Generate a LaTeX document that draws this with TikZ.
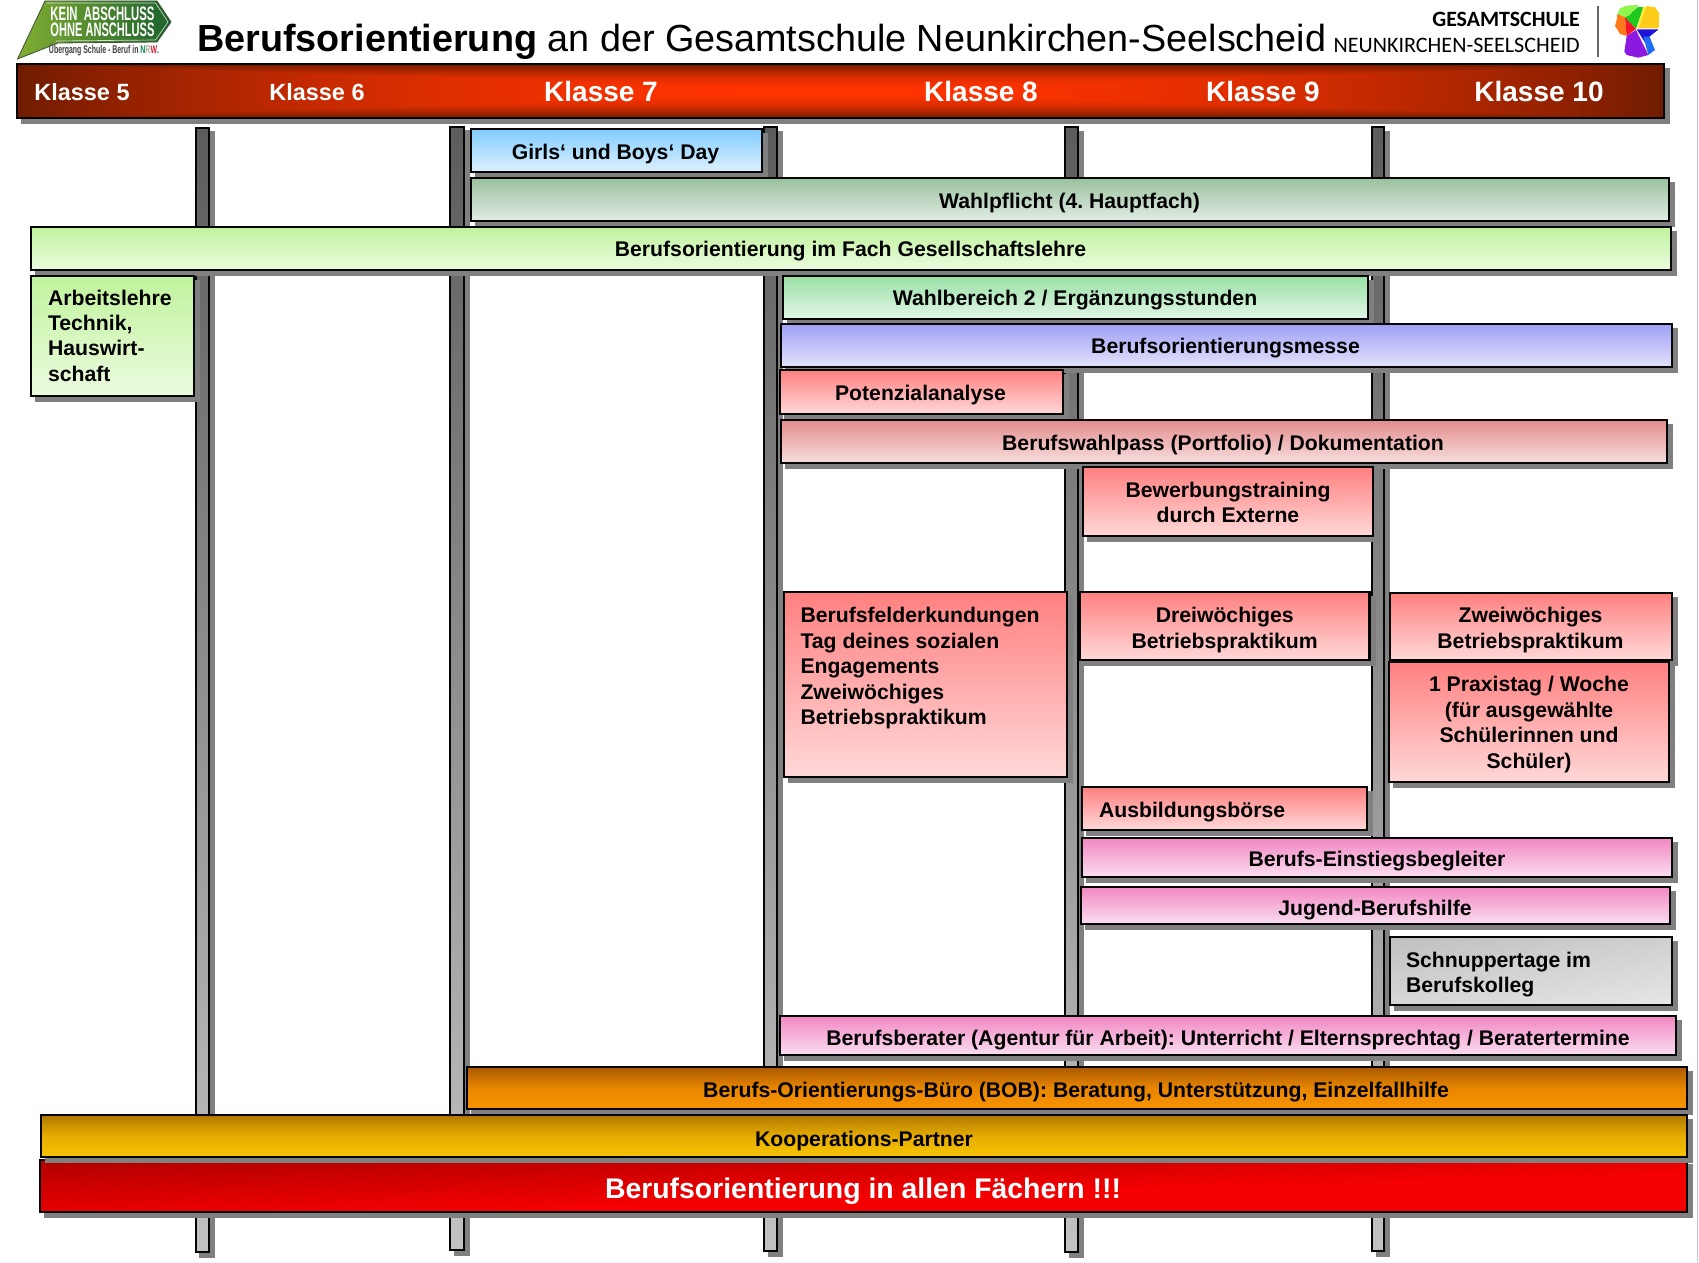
\documentclass[tikz,border=0pt]{standalone}
\usepackage{graphicx}
\usepackage{fontspec}
\setmainfont{Liberation Sans}
\newfontfamily\calibrilike{Carlito}
\definecolor{shadowfill}{RGB}{128,128,128}
\definecolor{edgeblack}{RGB}{5,5,5}
\definecolor{barT}{RGB}{92,92,92}\definecolor{barB}{RGB}{194,194,194}
\definecolor{girlsT}{RGB}{128,204,255}\definecolor{girlsB}{RGB}{222,241,255}
\definecolor{wpT}{RGB}{153,194,158}\definecolor{wpB}{RGB}{226,236,228}
\definecolor{glT}{RGB}{192,243,156}\definecolor{glB}{RGB}{236,251,224}
\definecolor{wbT}{RGB}{153,224,166}\definecolor{wbB}{RGB}{226,246,230}
\definecolor{msT}{RGB}{160,160,245}\definecolor{msB}{RGB}{226,226,252}
\definecolor{rdT}{RGB}{255,128,128}\definecolor{rdB}{RGB}{255,216,216}
\definecolor{pfT}{RGB}{228,140,140}\definecolor{pfB}{RGB}{246,222,222}
\definecolor{pkT}{RGB}{242,135,195}\definecolor{pkB}{RGB}{250,222,240}
\definecolor{boT}{RGB}{170,90,0}\definecolor{boM}{RGB}{232,134,0}\definecolor{boB}{RGB}{248,148,0}
\definecolor{kpT}{RGB}{176,120,0}\definecolor{kpM}{RGB}{230,172,0}\definecolor{kpB}{RGB}{248,196,0}
\definecolor{logoL}{RGB}{130,175,50}\definecolor{logoR}{RGB}{28,98,45}\definecolor{logoE}{RGB}{60,80,50}
\definecolor{nrwG}{RGB}{0,140,70}\definecolor{nrwW}{RGB}{170,170,170}\definecolor{nrwR}{RGB}{215,30,50}
\definecolor{hLime}{RGB}{145,245,80}\definecolor{hGreen}{RGB}{30,200,30}\definecolor{hYel}{RGB}{255,235,50}
\definecolor{hGold}{RGB}{255,205,25}\definecolor{hOrange}{RGB}{255,120,25}\definecolor{hRed}{RGB}{245,20,40}
\definecolor{hBlue}{RGB}{30,20,215}\definecolor{hSky}{RGB}{30,110,245}\definecolor{hPurple}{RGB}{140,25,225}
\pgfdeclarefunctionalshading{headerglow}{\pgfpointorigin}{\pgfpoint{100bp}{100bp}}{}{
 50 sub abs 25 div exch 50 sub abs 25 div 2 copy lt {exch} if pop dup mul
 dup -143 mul 255 add 255 div exch -23 mul 51 add 255 div 0 }
\pgfdeclarefunctionalshading{redslant}{\pgfpointorigin}{\pgfpoint{100bp}{100bp}}{}{
 25 sub 50 div 1 exch sub 56 mul exch 25 sub 50 div 54 mul add 176 add
 dup 245 gt {pop 245} if 255 div 0 0 }
\pgfdeclarefunctionalshading{grayslant}{\pgfpointorigin}{\pgfpoint{100bp}{100bp}}{}{
 25 sub 50 div 1 exch sub 23 mul exch 25 sub 50 div 15 mul add 192 add 255 div dup dup }
\tikzset{
 panelbase/.style={draw=edgeblack,line width=1.75pt,inner sep=0pt,outer sep=0pt,rectangle},
 barpanel/.style={top color=barT,bottom color=barB,line width=1.5pt},
 girlsfill/.style={top color=girlsT,bottom color=girlsB},
 wpfill/.style={top color=wpT,bottom color=wpB},
 glfill/.style={top color=glT,bottom color=glB},
 wbfill/.style={top color=wbT,bottom color=wbB},
 msfill/.style={top color=msT,bottom color=msB},
 rdfill/.style={top color=rdT,bottom color=rdB},
 pffill/.style={top color=pfT,bottom color=pfB},
 pkfill/.style={top color=pkT,bottom color=pkB},
 bofill/.style={top color=boT,bottom color=boB,middle color=boM},
 kpfill/.style={top color=kpT,bottom color=kpB,middle color=kpM},
 headfill/.style={shade,shading=headerglow},
 redfill/.style={shade,shading=redslant},
 grayfill/.style={shade,shading=grayslant},
 body/.style={font=\fontsize{15.9}{19.1}\selectfont\bfseries,text=black,inner sep=0pt,outer sep=0pt,anchor=base},
 leftbody/.style={body,anchor=base west},
 klein/.style={body,text=white,font=\fontsize{17.6}{22}\selectfont\bfseries},
 gross/.style={body,text=white,font=\fontsize{21}{24}\selectfont\bfseries},
}
\newcommand{\panel}[6]{%
 \fill[shadowfill] ({#2+3.8},{#3+3.8}) rectangle ({#4+6.2},{#5+6.2});
 \node[panelbase,#6,minimum width={(#4-#2)*0.75pt},minimum height={(#5-#3)*0.75pt}] (#1) at ({(#2+#4)/2},{(#3+#5)/2}) {};
}
\newcommand{\lines}[2]{\begin{tabular}[t]{@{}#1@{}}#2\end{tabular}}
\renewcommand{\arraystretch}{1}
\begin{document}
\frenchspacing
\begin{tikzpicture}[x=0.75pt,y=-0.75pt]
\useasboundingbox (0,0) rectangle (1699,1263);
\fill[white] (0,0) rectangle (1699,1263);
\draw[line width=0.8pt,black!22] (1697.5,0) -- (1697.5,1263);
\draw[line width=0.5pt,black!4] (0,1262.6) -- (1699,1262.6);
% columns
\panel{col1}{195.5}{127.5}{209}{1252}{barpanel}
\panel{col2}{450.3}{126.5}{464}{1250}{barpanel}
\panel{col3}{764.3}{127}{776.7}{1251}{barpanel}
\panel{col4}{1065.3}{127}{1078}{1252}{barpanel}
\panel{col5}{1371.7}{127}{1383.7}{1250.7}{barpanel}
% header
\panel{kopf}{17}{64}{1664}{118}{headfill}
% panels
\panel{girls}{471}{129}{762}{172}{girlsfill}
\panel{wahlpflicht}{471}{178}{1669}{221}{wpfill}
\panel{gesell}{31}{227}{1671}{270}{glfill}
\panel{arbeit}{31}{276}{194}{396}{glfill}
\panel{wahlbereich}{783}{276}{1368}{319}{wbfill}
\panel{messe}{781}{324}{1672}{367}{msfill}
\panel{potenzial}{780}{370}{1063}{414}{rdfill}
\panel{pass}{781}{420}{1667}{463}{pffill}
\panel{bewerbung}{1083}{467}{1373}{536}{rdfill}
\panel{felder}{784}{592}{1067}{777}{rdfill}
\panel{drei}{1080}{592}{1369.5}{660}{rdfill}
\panel{zwei}{1390}{593}{1672}{660}{rdfill}
\panel{praxis}{1389}{662}{1669}{782}{rdfill}
\panel{boerse}{1082}{787}{1367}{830}{rdfill}
\panel{einstieg}{1082}{838}{1672}{877}{pkfill}
\panel{jugend}{1081}{887}{1670}{924}{pkfill}
\panel{schnupper}{1390}{937}{1672}{1005}{grayfill}
\panel{berater}{780}{1016}{1676}{1055}{pkfill}
\panel{bob}{467}{1067}{1687}{1109}{bofill}
\panel{rotbalken}{40}{1160}{1687}{1212}{redfill}
\panel{kooperation}{41}{1115}{1687}{1157}{kpfill}
% header labels
\node[klein] (k5) at (82,101) {Klasse 5};
\node[klein] (k6) at (317,101) {Klasse 6};
\node[gross] (k7) at (601,102) {Klasse 7};
\node[gross] (k8) at (981,102) {Klasse 8};
\node[gross] (k9) at (1263,102) {Klasse 9};
\node[gross] (k10) at (1539,102) {Klasse 10};
% panel labels
\node[body] (t-girls) at (615.5,159) {Girls‘ und Boys‘ Day};
\node[body] (t-wp) at (1069.5,208) {Wahlpflicht (4. Hauptfach)};
\node[body] (t-gl) at (850.5,256.7) {Berufsorientierung im Fach Gesellschaftslehre};
\node[leftbody] (t-arbeit) at (48,305) {\lines{l}{Arbeitslehre\\Technik,\\Hauswirt-\\schaft}};
\node[body] (t-wb) at (1075,305.5) {Wahlbereich 2 / Ergänzungsstunden};
\node[body] (t-messe) at (1225.5,353.5) {Berufsorientierungsmesse};
\node[body] (t-pot) at (920.5,400.5) {Potenzialanalyse};
\node[body] (t-pass) at (1223,450.5) {Berufswahlpass (Portfolio) / Dokumentation};
\node[body] (t-bew) at (1228,497.5) {\lines{c}{Bewerbungstraining\\durch Externe}};
\node[leftbody] (t-felder) at (800.5,622.7) {\lines{l}{Berufsfelderkundungen\\Tag deines sozialen\\Engagements\\Zweiwöchiges\\Betriebspraktikum}};
\node[body] (t-drei) at (1224.7,622.7) {\lines{c}{Dreiwöchiges\\Betriebspraktikum}};
\node[body] (t-zwei) at (1530.5,622.7) {\lines{c}{Zweiwöchiges\\Betriebspraktikum}};
\node[body] (t-praxis) at (1529,691.7) {\lines{c}{1 Praxistag / Woche\\(für ausgewählte\\Schülerinnen und\\Schüler)}};
\node[leftbody] (t-boerse) at (1099,817) {Ausbildungsbörse};
\node[body] (t-einst) at (1377,866) {Berufs-Einstiegsbegleiter};
\node[body] (t-jug) at (1375,915) {Jugend-Berufshilfe};
\node[leftbody] (t-schn) at (1406,967) {\lines{l}{Schnuppertage im\\Berufskolleg}};
\node[body] (t-ber) at (1228,1045) {Berufsberater (Agentur für Arbeit): Unterricht / Elternsprechtag / Beratertermine};
\node[body] (t-bob) at (1076,1097.7) {Berufs-Orientierungs-Büro (BOB): Beratung, Unterstützung, Einzelfallhilfe};
\node[body] (t-koop) at (864,1146) {Kooperations-Partner};
\node[body,text=white,font=\fontsize{21.3}{25}\selectfont\bfseries] (t-rot) at (863,1198) {Berufsorientierung in allen Fächern !!!};
% title
\node[anchor=base west,inner sep=0pt,font=\fontsize{28.32}{32}\selectfont] (titel) at (197,52) {\textbf{Berufsorientierung} an der Gesamtschule Neunkirchen-Seelscheid};
% left logo
\shade[left color=logoL,right color=logoR,draw=logoE,line width=0.6pt]
 (17.5,59) -- (45,1) -- (157,1) -- (171,22) -- (157,42) -- (58,43) -- cycle;
\draw[white,line width=0.5pt,opacity=0.75] (46.5,3) -- (155.5,3) -- (168,22) -- (155.5,40) -- (56,41);
\node[inner sep=0pt,text=white] (logo1) at (102.5,13.5) {\resizebox{78pt}{10.2pt}{\bfseries KEIN\ \ ABSCHLUSS}};
\node[inner sep=0pt,text=white] (logo2) at (102.5,30) {\resizebox{78pt}{10.2pt}{\bfseries OHNE\ ANSCHLUSS}};
\node[inner sep=0pt,text=black!75] (logo3) at (104,50) {\resizebox{82.5pt}{!}{\scalebox{0.62}[1]{\fontsize{11.5}{13}\selectfont\bfseries Übergang Schule - Beruf in \textcolor{nrwG}{N}\textcolor{nrwW}{R}\textcolor{nrwR}{W}.}}};
% school logo
\node[anchor=base east,inner sep=0pt,font=\calibrilike\bfseries\fontsize{16.4}{18}\selectfont] (schule1) at (1580,27) {GESAMTSCHULE};
\node[anchor=base east,inner sep=0pt,font=\calibrilike\fontsize{16.55}{20}\selectfont] (schule2) at (1580,52.5) {NEUNKIRCHEN-SEELSCHEID};
\draw[line width=0.8pt,black!60] (1598,6) -- (1598,57);
\begin{scope}[shift={(1610,0)},x=0.25pt,y=-0.25pt]
\fill[hLime] (22,42) -- (30,25) -- (50,17) -- (85,15) -- (72,30) -- (60,45) -- (45,52) -- cycle;
\fill[hGreen] (45,52) -- (60,45) -- (68,35) -- (85,20) -- (100,22) -- (78,87) -- cycle;
\fill[hYel] (100,20) -- (110,22) -- (95,60) -- (80,87) -- cycle;
\fill[hGold] (110,18) -- (135,22) -- (148,40) -- (146,85) -- (84,85) -- (95,60) -- cycle;
\fill[hOrange] (22,42) -- (45,52) -- (50,108) -- (30,102) -- (22,88) -- (15,78) -- (20,60) -- cycle;
\fill[hRed] (45,52) -- (78,87) -- (50,108) -- cycle;
\fill[hBlue] (80,88) -- (146,88) -- (118,110) -- (132,148) -- (122,155) -- cycle;
\fill[hSky] (100,110) -- (118,110) -- (135,150) -- (115,165) -- cycle;
\fill[hPurple] (78,90) -- (115,165) -- (85,173) -- (50,165) -- (43,155) -- (50,108) -- cycle;
\end{scope}
\end{tikzpicture}
\end{document}
